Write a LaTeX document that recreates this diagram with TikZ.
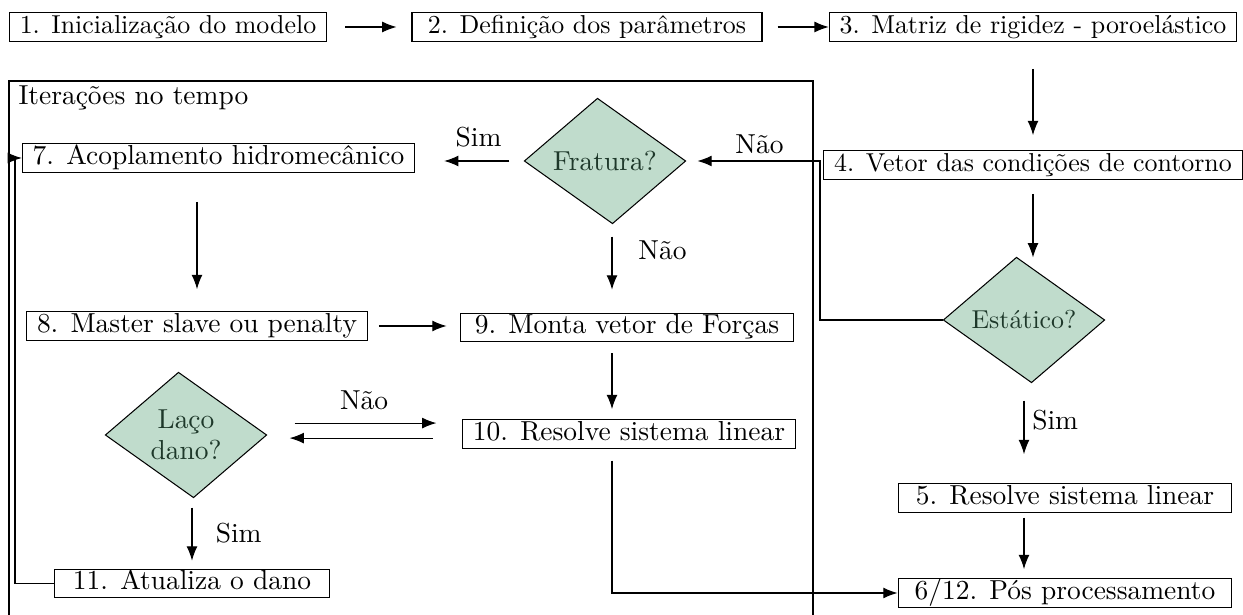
\documentclass[tikz,border=0pt]{standalone}
\usepackage{fontspec}
\usepackage{tikz}
\usetikzlibrary{arrows.meta,positioning,shapes.geometric,calc,backgrounds}

\definecolor{verdeclaro}{RGB}{192,220,204}
\definecolor{verdeescuro}{RGB}{30,56,42}

\begin{document}
\begin{tikzpicture}[
    x=0.386pt, y=-0.386pt,
    etapa/.style={draw, inner xsep=4pt, inner ysep=1pt, text height=1.6ex, text depth=0.5ex},
    interno/.style={font=\fontsize{10.6}{12}\selectfont},
    decisao/.style={diamond, aspect=1.3, inner sep=0pt, minimum width=61.8pt, minimum height=47.9pt, align=center, text=verdeescuro},
    losango/.style={fill=verdeclaro, draw=black, line join=miter},
    seta/.style={-{Latex[length=5.5pt,width=4.2pt]}},
    rotulo/.style={inner sep=2pt, interno},
]
    \useasboundingbox (0,0) rectangle (1243,615);

    \node[etapa, minimum width=121.2pt] (inic) at (168,27) {1. Inicialização do modelo};
    \node[etapa, minimum width=135.1pt] (param) at (587,27) {2. Definição dos parâmetros};
    \node[etapa, minimum width=154.4pt] (rigidez) at (1033,27) {3. Matriz de rigidez - poroelástico};
    \node[etapa, minimum width=154.4pt] (contorno) at (1033,165) {4. Vetor das condições de contorno};
    \node[decisao] (estatico) at (1024,320) {Estático?};
    \node[etapa, interno, minimum width=128.9pt] (resolve) at (1065,498) {5. Resolve sistema linear};
    \node[etapa, interno, minimum width=128.9pt] (pos) at (1065,593) {6/12. Pós processamento};

    \draw (9,615) -- (9,81) -- (813,81) -- (813,615);
    \node[anchor=base west, inner sep=0pt, interno] (iter) at (18,105) {Iterações no tempo};

    \node[decisao, interno] (fratura) at (605,161) {Fratura?};
    \node[etapa, interno, minimum width=146.3pt] (acopla) at (218.5,158) {7. Acoplamento hidromecânico};
    \node[etapa, interno, minimum width=128.9pt] (master) at (197,326) {8. Master slave ou penalty};
    \node[etapa, interno, minimum width=128.9pt] (forcas) at (627,327.5) {9. Monta vetor de Forças};
    \node[etapa, interno, minimum width=128.9pt] (sistema) at (629,434) {10. Resolve sistema linear};
    \node[decisao, interno] (laco) at (186,435) {Laço\\dano?};
    \node[etapa, interno, minimum width=106.5pt] (dano) at (192,583.5) {11. Atualiza o dano};

    \coordinate (eixo) at (612,300);
    \coordinate (retorno) at (15,300);
    \coordinate (desvio) at (820,300);

    \begin{scope}[on background layer]
        \foreach \d in {fratura,laco,estatico}
            \draw[losango] ($(\d.north)+(-7.5,0)$) -- (\d.east) -- ($(\d.south)+(7.5,0)$) -- (\d.west) -- cycle;
    \end{scope}

    \draw[seta, shorten <=7pt, shorten >=5.8pt] (inic) -- (param);
    \draw[seta, shorten <=5.8pt] (param) -- (rigidez);
    \draw[seta, shorten <=10.4pt, shorten >=5.8pt] (rigidez) -- (contorno);
    \draw[seta, shorten <=5.4pt] (contorno) -- (contorno |- estatico.north);
    \draw[seta, shorten <=7pt, shorten >=11.2pt] (estatico.south) -- (estatico.south |- resolve.north) node[rotulo, right=1pt, pos=0.37] {Sim};
    \draw[seta, shorten <=1.9pt, shorten >=3.5pt] (estatico.south |- resolve.south) -- (estatico.south |- pos.north);
    \draw[seta, shorten >=4.6pt] (estatico.west) -| (desvio |- fratura.east) -- (fratura.east) node[rotulo, above=0.5pt, pos=0.45] {Não};

    \draw[seta, shorten <=5.8pt, shorten >=11.2pt] (fratura.west) -- (fratura.west -| acopla.east) node[rotulo, above=3pt, pos=0.42] {Sim};
    \draw[seta, shorten <=5pt, shorten >=8.9pt] (eixo |- fratura.south) -- (eixo |- forcas.north) node[rotulo, right=8pt, pos=0.3] {Não};
    \draw[seta, shorten <=4.2pt, shorten >=3.9pt] (eixo |- forcas.south) -- (eixo |- sistema.north);
    \draw[seta, shorten <=4.6pt] (eixo |- sistema.south) |- (pos.west);
    \draw[seta, shorten <=11.2pt, shorten >=8.5pt] (master.north |- acopla.south) -- (master.north);
    \draw[seta, shorten <=4.2pt, shorten >=5pt] (master.east) -- (master.east -| forcas.west);
    \draw[seta, transform canvas={yshift=4.6pt}, shorten <=10.8pt, shorten >=9.7pt] (laco.east) -- (laco.east -| sistema.west) node[rotulo, above=3pt, midway] {Não};
    \draw[seta, transform canvas={yshift=-1.2pt}, shorten <=11.2pt, shorten >=8.9pt] (laco.east -| sistema.west) -- (laco.east);
    \draw[seta, shorten <=3.9pt, shorten >=3.1pt] (dano.north |- laco.south) -- (dano.north) node[rotulo, right=7pt, midway] {Sim};
    \draw[seta] (dano.west) -- (dano.west -| retorno) |- (acopla.west);
\end{tikzpicture}
\end{document}
